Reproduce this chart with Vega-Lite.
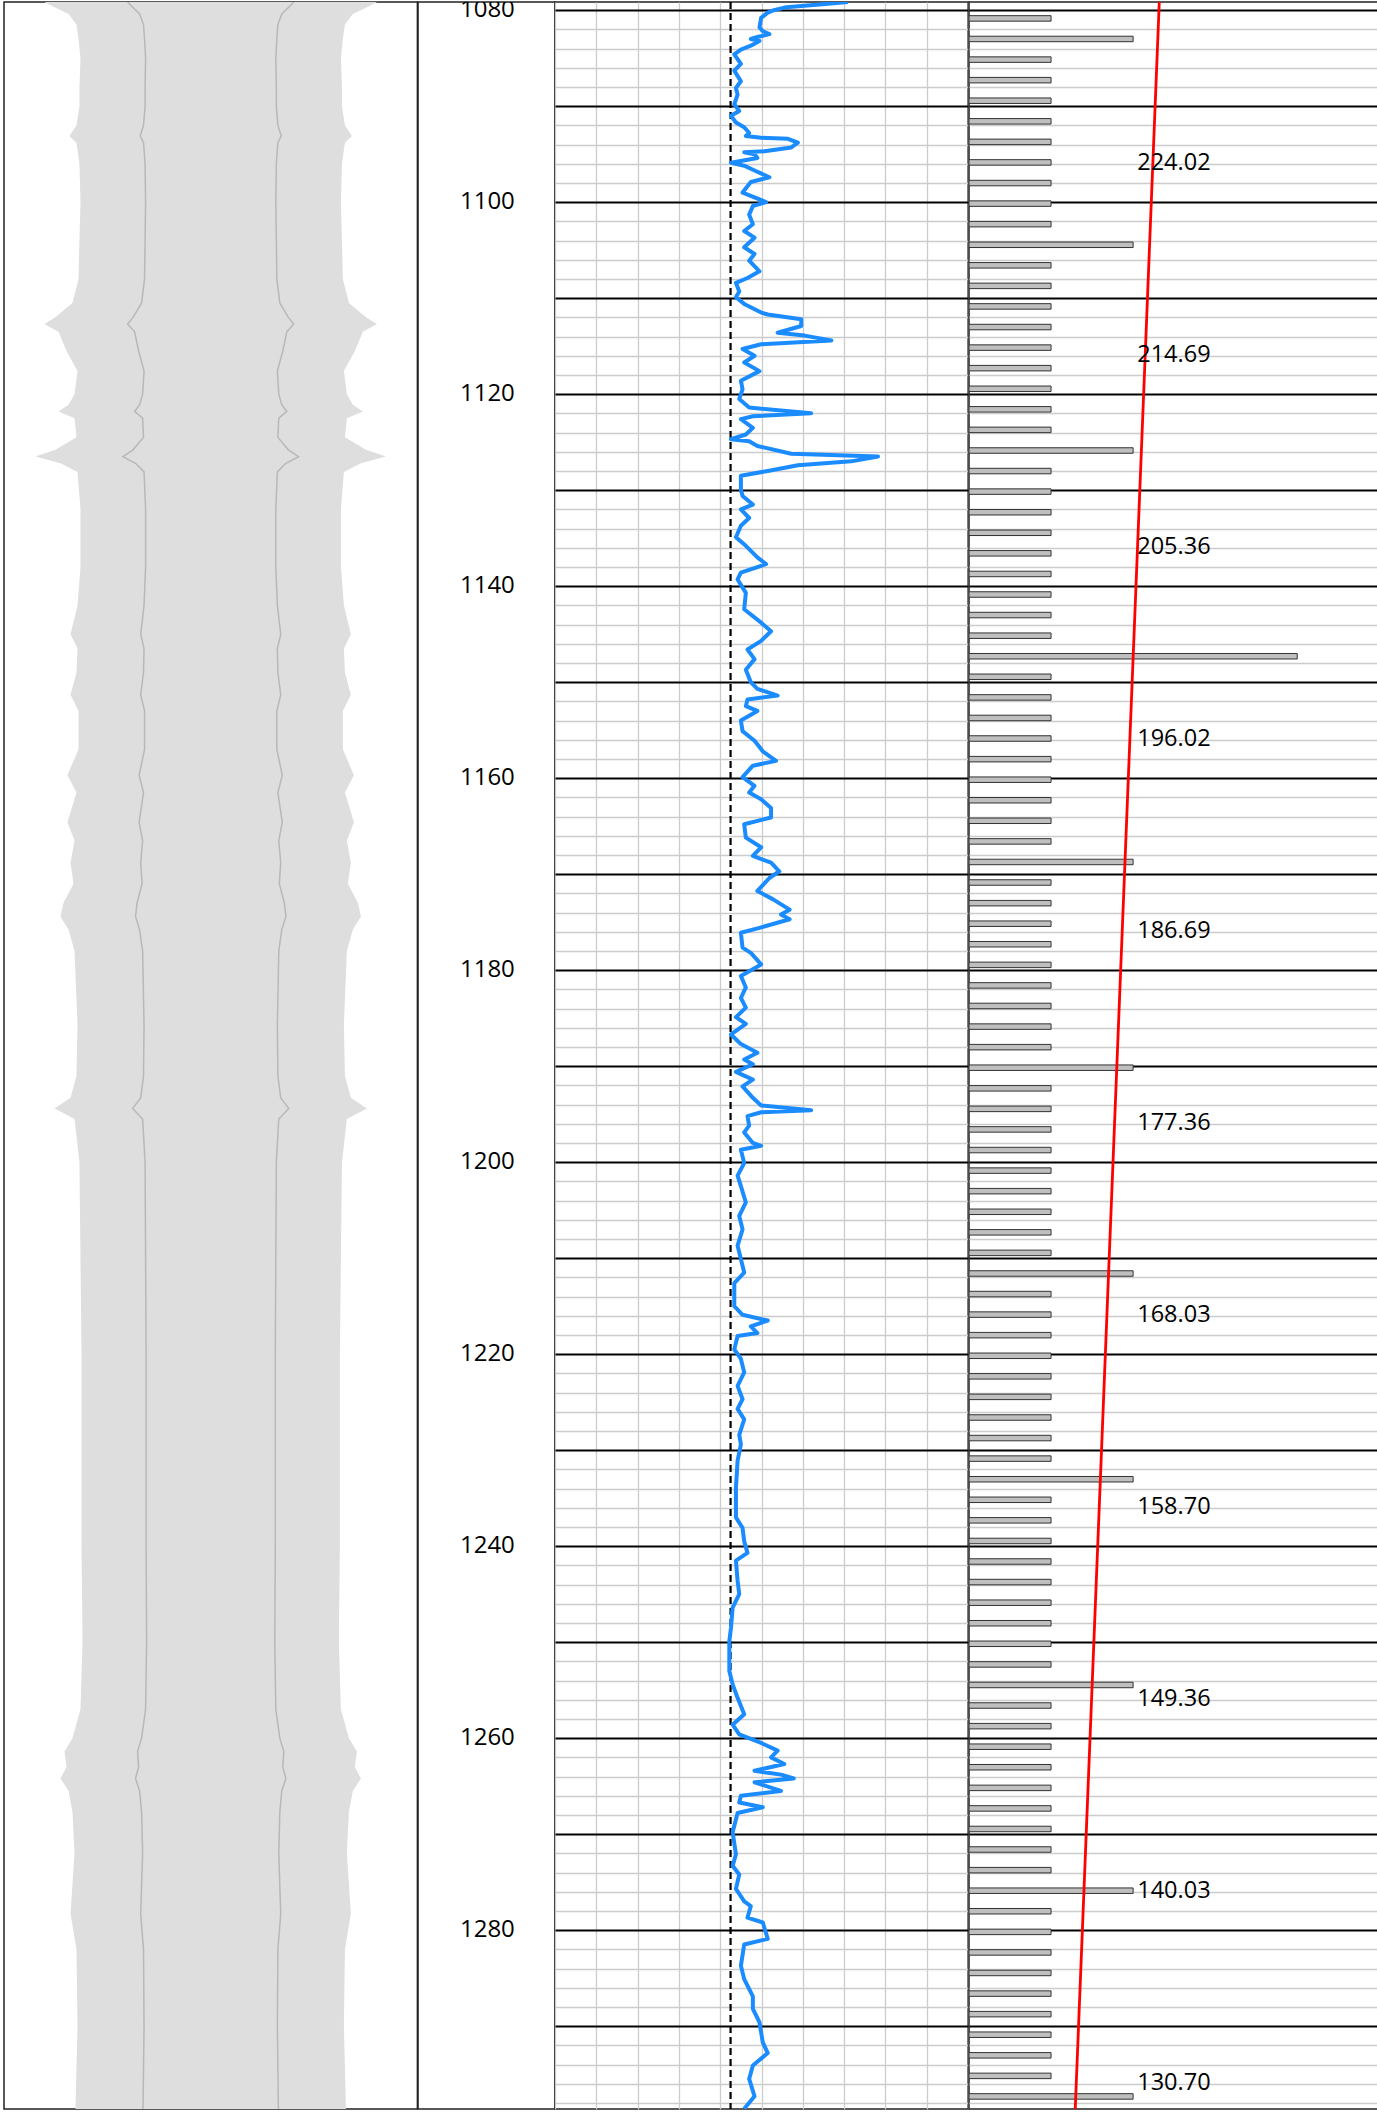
{
  "$schema": "https://vega.github.io/schema/vega-lite/v6.json",
  "padding": {"left": 3, "top": 1, "right": 0, "bottom": 3},
  "spacing": 0,
  "bounds": "flush",
  "config": {"view": {"stroke": "#222222", "strokeWidth": 1.5}},
  "datasets": {
    "caliper": [
      {"d":1079.15,"l":-12.87,"r":12.87,"il":-6.43,"ir":6.43},
      {"d":1079.6,"l":-12.25,"r":12.25,"il":-6.12,"ir":6.12},
      {"d":1080.4,"l":-11.0,"r":11.0,"il":-5.5,"ir":5.5},
      {"d":1081.5,"l":-10.39,"r":10.39,"il":-5.2,"ir":5.2},
      {"d":1083,"l":-10.23,"r":10.23,"il":-5.12,"ir":5.12},
      {"d":1085,"l":-10.08,"r":10.08,"il":-5.04,"ir":5.04},
      {"d":1088,"l":-10.16,"r":10.16,"il":-5.08,"ir":5.08},
      {"d":1090,"l":-10.16,"r":10.16,"il":-5.08,"ir":5.08},
      {"d":1092,"l":-10.39,"r":10.39,"il":-5.2,"ir":5.2},
      {"d":1093.1,"l":-10.93,"r":10.93,"il":-5.46,"ir":5.46},
      {"d":1093.8,"l":-10.39,"r":10.39,"il":-5.2,"ir":5.2},
      {"d":1096,"l":-10.16,"r":10.16,"il":-5.08,"ir":5.08},
      {"d":1100,"l":-10.08,"r":10.08,"il":-5.04,"ir":5.04},
      {"d":1104,"l":-10.16,"r":10.16,"il":-5.08,"ir":5.08},
      {"d":1108,"l":-10.23,"r":10.23,"il":-5.12,"ir":5.12},
      {"d":1110.5,"l":-10.7,"r":10.7,"il":-5.35,"ir":5.35},
      {"d":1112,"l":-12.02,"r":12.02,"il":-6.01,"ir":6.01},
      {"d":1112.7,"l":-12.87,"r":12.87,"il":-6.43,"ir":6.43},
      {"d":1113.5,"l":-11.78,"r":11.78,"il":-5.89,"ir":5.89},
      {"d":1115.5,"l":-11.16,"r":11.16,"il":-5.58,"ir":5.58},
      {"d":1117.6,"l":-10.31,"r":10.31,"il":-5.16,"ir":5.16},
      {"d":1120,"l":-10.54,"r":10.54,"il":-5.27,"ir":5.27},
      {"d":1121.1,"l":-11.0,"r":11.0,"il":-5.5,"ir":5.5},
      {"d":1121.8,"l":-11.78,"r":11.78,"il":-5.89,"ir":5.89},
      {"d":1122.5,"l":-10.54,"r":10.54,"il":-5.27,"ir":5.27},
      {"d":1124.5,"l":-10.39,"r":10.39,"il":-5.2,"ir":5.2},
      {"d":1125.8,"l":-12.02,"r":12.02,"il":-6.01,"ir":6.01},
      {"d":1126.5,"l":-13.57,"r":13.57,"il":-6.8,"ir":6.8},
      {"d":1127.2,"l":-11.63,"r":11.63,"il":-5.82,"ir":5.82},
      {"d":1128.1,"l":-10.31,"r":10.31,"il":-5.16,"ir":5.16},
      {"d":1132,"l":-10.08,"r":10.08,"il":-5.04,"ir":5.04},
      {"d":1138,"l":-10.08,"r":10.08,"il":-5.04,"ir":5.04},
      {"d":1142,"l":-10.31,"r":10.31,"il":-5.16,"ir":5.16},
      {"d":1145,"l":-10.85,"r":10.85,"il":-5.42,"ir":5.42},
      {"d":1146.5,"l":-10.31,"r":10.31,"il":-5.16,"ir":5.16},
      {"d":1149,"l":-10.39,"r":10.39,"il":-5.2,"ir":5.2},
      {"d":1151.3,"l":-10.85,"r":10.85,"il":-5.42,"ir":5.42},
      {"d":1153,"l":-10.23,"r":10.23,"il":-5.12,"ir":5.12},
      {"d":1157,"l":-10.23,"r":10.23,"il":-5.12,"ir":5.12},
      {"d":1159.7,"l":-11.09,"r":11.09,"il":-5.54,"ir":5.54},
      {"d":1161.5,"l":-10.39,"r":10.39,"il":-5.2,"ir":5.2},
      {"d":1164.6,"l":-11.09,"r":11.09,"il":-5.54,"ir":5.54},
      {"d":1166.5,"l":-10.54,"r":10.54,"il":-5.27,"ir":5.27},
      {"d":1168.8,"l":-10.85,"r":10.85,"il":-5.42,"ir":5.42},
      {"d":1171,"l":-10.62,"r":10.62,"il":-5.31,"ir":5.31},
      {"d":1173,"l":-11.4,"r":11.4,"il":-5.7,"ir":5.7},
      {"d":1174.4,"l":-11.63,"r":11.63,"il":-5.82,"ir":5.82},
      {"d":1175.8,"l":-11.0,"r":11.0,"il":-5.5,"ir":5.5},
      {"d":1178,"l":-10.54,"r":10.54,"il":-5.27,"ir":5.27},
      {"d":1185.7,"l":-10.31,"r":10.31,"il":-5.16,"ir":5.16},
      {"d":1191,"l":-10.39,"r":10.39,"il":-5.2,"ir":5.2},
      {"d":1193.3,"l":-10.85,"r":10.85,"il":-5.42,"ir":5.42},
      {"d":1194.4,"l":-12.09,"r":12.09,"il":-6.04,"ir":6.04},
      {"d":1195.5,"l":-10.54,"r":10.54,"il":-5.27,"ir":5.27},
      {"d":1200,"l":-10.16,"r":10.16,"il":-5.08,"ir":5.08},
      {"d":1210,"l":-10.08,"r":10.08,"il":-5.04,"ir":5.04},
      {"d":1220,"l":-10.0,"r":10.0,"il":-5.0,"ir":5.0},
      {"d":1240,"l":-10.0,"r":10.0,"il":-5.0,"ir":5.0},
      {"d":1250,"l":-9.92,"r":9.92,"il":-4.96,"ir":4.96},
      {"d":1257,"l":-10.08,"r":10.08,"il":-5.04,"ir":5.04},
      {"d":1260,"l":-10.7,"r":10.7,"il":-5.35,"ir":5.35},
      {"d":1261.4,"l":-11.32,"r":11.32,"il":-5.66,"ir":5.66},
      {"d":1263,"l":-11.16,"r":11.16,"il":-5.58,"ir":5.58},
      {"d":1264.2,"l":-11.63,"r":11.63,"il":-5.82,"ir":5.82},
      {"d":1265.5,"l":-11.0,"r":11.0,"il":-5.5,"ir":5.5},
      {"d":1267.7,"l":-10.7,"r":10.7,"il":-5.35,"ir":5.35},
      {"d":1272,"l":-10.54,"r":10.54,"il":-5.27,"ir":5.27},
      {"d":1278.3,"l":-10.85,"r":10.85,"il":-5.42,"ir":5.42},
      {"d":1282,"l":-10.39,"r":10.39,"il":-5.2,"ir":5.2},
      {"d":1290,"l":-10.31,"r":10.31,"il":-5.16,"ir":5.16},
      {"d":1298.63,"l":-10.47,"r":10.47,"il":-5.24,"ir":5.24}
    ],
    "depthLabels": [
      {"d":1080},{"d":1100},{"d":1120},{"d":1140},{"d":1160},{"d":1180},{"d":1200},{"d":1220},{"d":1240},{"d":1260},{"d":1280}
    ],
    "curve": [
      {"d":1079.15,"v":70.9},{"d":1079.4,"v":64},{"d":1079.7,"v":56},{"d":1080.0,"v":53},{"d":1080.26,"v":51.5},
      {"d":1080.8,"v":49.9},{"d":1081.8,"v":49.5},{"d":1082.2,"v":50.3},{"d":1082.5,"v":51.9},{"d":1082.8,"v":49},
      {"d":1083.0,"v":47.4},{"d":1083.2,"v":49.5},{"d":1083.7,"v":47.4},{"d":1084.1,"v":45},{"d":1084.6,"v":43.4},
      {"d":1085.6,"v":45},{"d":1086.3,"v":43.4},{"d":1087.4,"v":45},{"d":1088.1,"v":43.8},{"d":1088.8,"v":44.2},
      {"d":1089.8,"v":43.4},{"d":1090.5,"v":44.6},{"d":1091.0,"v":42.6},{"d":1091.7,"v":43.8},{"d":1092.2,"v":45.8},
      {"d":1092.8,"v":47},{"d":1093.1,"v":46.2},{"d":1093.3,"v":49.9},{"d":1093.4,"v":56.4},{"d":1093.8,"v":58.8},
      {"d":1094.3,"v":57.2},{"d":1094.7,"v":50.7},{"d":1094.8,"v":45.8},{"d":1095.0,"v":48.3},{"d":1095.4,"v":49},
      {"d":1095.9,"v":42.6},{"d":1096.2,"v":45.8},{"d":1096.7,"v":48.3},{"d":1097.4,"v":51.9},{"d":1097.9,"v":47.4},
      {"d":1099.0,"v":45.4},{"d":1099.5,"v":48.3},{"d":1100.0,"v":51.1},{"d":1100.4,"v":47.9},{"d":1101.3,"v":47},
      {"d":1102.3,"v":47.9},{"d":1103.0,"v":45.8},{"d":1103.7,"v":48.3},{"d":1104.7,"v":45.8},{"d":1105.4,"v":48.3},
      {"d":1106.1,"v":47},{"d":1107.2,"v":49.5},{"d":1107.9,"v":46.6},{"d":1108.4,"v":43.8},{"d":1109.3,"v":44.6},
      {"d":1109.9,"v":43.8},{"d":1110.6,"v":45.8},{"d":1111.5,"v":49.9},{"d":1111.7,"v":51.5},{"d":1112.2,"v":59.6},
      {"d":1112.9,"v":59.6},{"d":1113.6,"v":53.9},{"d":1113.9,"v":60.4},{"d":1114.4,"v":66.9},{"d":1114.8,"v":49.9},
      {"d":1115.3,"v":45.4},{"d":1116.0,"v":48.3},{"d":1116.7,"v":45.8},{"d":1117.6,"v":49.5},{"d":1118.6,"v":45},
      {"d":1119.5,"v":45.4},{"d":1120.5,"v":44.6},{"d":1121.4,"v":47},{"d":1122.0,"v":62},{"d":1122.3,"v":47.9},
      {"d":1122.6,"v":45},{"d":1123.5,"v":47.9},{"d":1124.2,"v":46.2},{"d":1124.7,"v":42.6},{"d":1124.9,"v":47},
      {"d":1125.4,"v":49},{"d":1126.2,"v":57.2},{"d":1126.5,"v":78.2},{"d":1127.0,"v":71.7},{"d":1127.4,"v":58.8},
      {"d":1128.0,"v":51.5},{"d":1128.5,"v":45},{"d":1129.9,"v":45},{"d":1130.6,"v":45.4},{"d":1131.5,"v":47.9},
      {"d":1132.0,"v":45},{"d":1132.9,"v":47},{"d":1133.7,"v":45},{"d":1134.9,"v":43.8},{"d":1135.8,"v":46.2},
      {"d":1137.0,"v":49},{"d":1137.7,"v":51.1},{"d":1138.6,"v":45},{"d":1139.3,"v":44.2},{"d":1140.7,"v":46.2},
      {"d":1142.4,"v":45.8},{"d":1143.8,"v":49.9},{"d":1144.7,"v":52.3},{"d":1145.7,"v":49.9},{"d":1146.6,"v":46.6},
      {"d":1147.6,"v":48.3},{"d":1148.7,"v":46.2},{"d":1150.0,"v":47.4},{"d":1150.7,"v":49},{"d":1151.4,"v":53.9},
      {"d":1151.8,"v":46.6},{"d":1152.5,"v":46.2},{"d":1153.0,"v":49},{"d":1154.0,"v":45},{"d":1155.1,"v":45.4},
      {"d":1156.1,"v":48.3},{"d":1157.2,"v":50.3},{"d":1158.2,"v":53.5},{"d":1158.7,"v":47.9},{"d":1159.9,"v":45.4},
      {"d":1160.8,"v":48.3},{"d":1161.5,"v":47},{"d":1162.2,"v":49.9},{"d":1163.1,"v":52.3},{"d":1164.1,"v":52.3},
      {"d":1164.8,"v":45.8},{"d":1166.2,"v":46.2},{"d":1167.2,"v":49.9},{"d":1168.1,"v":47.9},{"d":1168.8,"v":52.3},
      {"d":1169.7,"v":54.3},{"d":1170.4,"v":51.9},{"d":1171.75,"v":49},{"d":1172.6,"v":52.7},{"d":1173.7,"v":56.8},
      {"d":1174.2,"v":54.7},{"d":1174.7,"v":56.8},{"d":1175.6,"v":49.5},{"d":1176.1,"v":45},{"d":1177.65,"v":45.4},
      {"d":1178.2,"v":47.4},{"d":1179.4,"v":49.9},{"d":1180.6,"v":45},{"d":1181.8,"v":46.2},{"d":1182.9,"v":45},
      {"d":1183.9,"v":46.2},{"d":1184.9,"v":43.8},{"d":1185.6,"v":46.2},{"d":1186.7,"v":42.6},{"d":1187.7,"v":45},
      {"d":1188.6,"v":49},{"d":1189.3,"v":45.8},{"d":1189.8,"v":47.9},{"d":1190.6,"v":43.8},{"d":1191.4,"v":47.9},
      {"d":1192.1,"v":45.4},{"d":1193.3,"v":47.9},{"d":1194.1,"v":49.9},{"d":1194.6,"v":62},{"d":1194.8,"v":49.9},
      {"d":1195.2,"v":46.6},{"d":1196.2,"v":47},{"d":1196.9,"v":45.8},{"d":1198.0,"v":47.9},{"d":1198.3,"v":49.9},
      {"d":1198.7,"v":45},{"d":1200.1,"v":45.8},{"d":1201.4,"v":44.2},{"d":1202.5,"v":45},{"d":1204.2,"v":46.2},
      {"d":1205.6,"v":44.6},{"d":1207.0,"v":45.4},{"d":1208.7,"v":44.2},{"d":1210.1,"v":45},{"d":1211.5,"v":45.8},
      {"d":1212.6,"v":43.4},{"d":1215.0,"v":43.4},{"d":1215.9,"v":45.4},{"d":1216.5,"v":51.5},{"d":1217.1,"v":47.4},
      {"d":1217.8,"v":49},{"d":1218.1,"v":44.2},{"d":1219.5,"v":43.4},{"d":1220.5,"v":45},{"d":1221.9,"v":45.8},
      {"d":1223.3,"v":44.2},{"d":1224.7,"v":45.4},{"d":1225.7,"v":44.2},{"d":1226.8,"v":45.8},{"d":1228.4,"v":44.6},
      {"d":1229.4,"v":45},{"d":1231.1,"v":44.2},{"d":1233.9,"v":43.8},{"d":1237.0,"v":43.8},{"d":1238.1,"v":45.4},
      {"d":1239.5,"v":45.8},{"d":1240.7,"v":46.6},{"d":1241.5,"v":43.8},{"d":1243.6,"v":44.2},{"d":1245.0,"v":44.6},
      {"d":1246.4,"v":43},{"d":1248.5,"v":42.6},{"d":1249.9,"v":42.2},{"d":1253.0,"v":42.2},{"d":1254.4,"v":43},
      {"d":1255.8,"v":44.2},{"d":1257.5,"v":45.8},{"d":1258.6,"v":43},{"d":1259.6,"v":44.6},{"d":1260.5,"v":49.9},
      {"d":1261.3,"v":53.9},{"d":1262.0,"v":52.3},{"d":1262.7,"v":55.5},{"d":1263.4,"v":48.3},{"d":1263.8,"v":54.7},
      {"d":1264.2,"v":57.8},{"d":1264.6,"v":48.3},{"d":1265.5,"v":54.7},{"d":1266.0,"v":45},{"d":1266.7,"v":44.6},
      {"d":1267.2,"v":50.3},{"d":1267.8,"v":44.2},{"d":1269.8,"v":43},{"d":1272.1,"v":43.8},{"d":1273.3,"v":43},
      {"d":1274.2,"v":44.6},{"d":1275.7,"v":43.8},{"d":1277.0,"v":45.8},{"d":1277.5,"v":47.4},{"d":1278.7,"v":46.6},
      {"d":1279.2,"v":50.3},{"d":1280.9,"v":51.5},{"d":1281.5,"v":45.8},{"d":1283.7,"v":45},{"d":1285.1,"v":45.8},
      {"d":1286.9,"v":47.9},{"d":1288.2,"v":47.9},{"d":1289.6,"v":49.5},{"d":1291.7,"v":50.3},{"d":1292.8,"v":51.5},
      {"d":1294.1,"v":47.9},{"d":1295.5,"v":47},{"d":1297.3,"v":48.3},{"d":1298.6,"v":45.8}
    ],
    "cutoff": [{"d":1079.15,"v":42.5},{"d":1298.63,"v":42.5}],
    "bars": [
      {"d":1080.86,"v":100},{"d":1083.00,"v":200},{"d":1085.15,"v":100},{"d":1087.29,"v":100},{"d":1089.43,"v":100},
      {"d":1091.58,"v":100},{"d":1093.72,"v":100},{"d":1095.86,"v":100},{"d":1098.01,"v":100},{"d":1100.15,"v":100},
      {"d":1102.29,"v":100},{"d":1104.44,"v":200},{"d":1106.58,"v":100},{"d":1108.72,"v":100},{"d":1110.86,"v":100},
      {"d":1113.01,"v":100},{"d":1115.15,"v":100},{"d":1117.29,"v":100},{"d":1119.44,"v":100},{"d":1121.58,"v":100},
      {"d":1123.72,"v":100},{"d":1125.87,"v":200},{"d":1128.01,"v":100},{"d":1130.15,"v":100},{"d":1132.30,"v":100},
      {"d":1134.44,"v":100},{"d":1136.58,"v":100},{"d":1138.73,"v":100},{"d":1140.87,"v":100},{"d":1143.01,"v":100},
      {"d":1145.16,"v":100},{"d":1147.30,"v":400},{"d":1149.44,"v":100},{"d":1151.59,"v":100},{"d":1153.73,"v":100},
      {"d":1155.87,"v":100},{"d":1158.02,"v":100},{"d":1160.16,"v":100},{"d":1162.30,"v":100},{"d":1164.44,"v":100},
      {"d":1166.59,"v":100},{"d":1168.73,"v":200},{"d":1170.87,"v":100},{"d":1173.02,"v":100},{"d":1175.16,"v":100},
      {"d":1177.30,"v":100},{"d":1179.45,"v":100},{"d":1181.59,"v":100},{"d":1183.73,"v":100},{"d":1185.88,"v":100},
      {"d":1188.02,"v":100},{"d":1190.16,"v":200},{"d":1192.31,"v":100},{"d":1194.45,"v":100},{"d":1196.59,"v":100},
      {"d":1198.74,"v":100},{"d":1200.88,"v":100},{"d":1203.02,"v":100},{"d":1205.17,"v":100},{"d":1207.31,"v":100},
      {"d":1209.45,"v":100},{"d":1211.60,"v":200},{"d":1213.74,"v":100},{"d":1215.88,"v":100},{"d":1218.02,"v":100},
      {"d":1220.17,"v":100},{"d":1222.31,"v":100},{"d":1224.45,"v":100},{"d":1226.60,"v":100},{"d":1228.74,"v":100},
      {"d":1230.88,"v":100},{"d":1233.03,"v":200},{"d":1235.17,"v":100},{"d":1237.31,"v":100},{"d":1239.46,"v":100},
      {"d":1241.60,"v":100},{"d":1243.74,"v":100},{"d":1245.89,"v":100},{"d":1248.03,"v":100},{"d":1250.17,"v":100},
      {"d":1252.32,"v":100},{"d":1254.46,"v":200},{"d":1256.60,"v":100},{"d":1258.75,"v":100},{"d":1260.89,"v":100},
      {"d":1263.03,"v":100},{"d":1265.18,"v":100},{"d":1267.32,"v":100},{"d":1269.46,"v":100},{"d":1271.60,"v":100},
      {"d":1273.75,"v":100},{"d":1275.89,"v":200},{"d":1278.03,"v":100},{"d":1280.18,"v":100},{"d":1282.32,"v":100},
      {"d":1284.46,"v":100},{"d":1286.61,"v":100},{"d":1288.75,"v":100},{"d":1290.89,"v":100},{"d":1293.04,"v":100},
      {"d":1295.18,"v":100},{"d":1297.32,"v":200}
    ],
    "trend": [
      {"d":1079.15,"v":231.88},{"d":1096,"v":224.02},{"d":1116,"v":214.69},{"d":1136,"v":205.36},{"d":1156,"v":196.02},
      {"d":1176,"v":186.69},{"d":1196,"v":177.36},{"d":1216,"v":168.03},{"d":1236,"v":158.70},{"d":1256,"v":149.36},
      {"d":1276,"v":140.03},{"d":1296,"v":130.70},{"d":1298.63,"v":129.46}
    ],
    "trendLabels": [
      {"d":1096,"t":"224.02"},{"d":1116,"t":"214.69"},{"d":1136,"t":"205.36"},{"d":1156,"t":"196.02"},
      {"d":1176,"t":"186.69"},{"d":1196,"t":"177.36"},{"d":1216,"t":"168.03"},{"d":1236,"t":"158.70"},
      {"d":1256,"t":"149.36"},{"d":1276,"t":"140.03"},{"d":1296,"t":"130.70"}
    ]
  },
  "hconcat": [
    {
      "width": 413.4,
      "height": 2107,
      "data": {"name": "caliper"},
      "encoding": {
        "y": {"field": "d", "type": "quantitative", "scale": {"domain": [1079.15, 1298.63], "reverse": true, "nice": false, "zero": false, "padding": 0}, "axis": null}
      },
      "layer": [
        {
          "mark": {"type": "area", "orient": "horizontal", "color": "#dedede", "opacity": 1, "clip": true},
          "encoding": {
            "x": {"field": "l", "type": "quantitative", "scale": {"domain": [-16, 16], "nice": false, "zero": false}, "axis": null},
            "x2": {"field": "r"}
          }
        },
        {
          "mark": {"type": "line", "color": "#b8b8b8", "strokeWidth": 1.5, "clip": true},
          "encoding": {
            "x": {"field": "il", "type": "quantitative", "scale": {"domain": [-16, 16], "nice": false, "zero": false}, "axis": null},
            "order": {"field": "d"}
          }
        },
        {
          "mark": {"type": "line", "color": "#b8b8b8", "strokeWidth": 1.5, "clip": true},
          "encoding": {
            "x": {"field": "ir", "type": "quantitative", "scale": {"domain": [-16, 16], "nice": false, "zero": false}, "axis": null},
            "order": {"field": "d"}
          }
        }
      ]
    },
    {
      "width": 136.9,
      "height": 2107,
      "data": {"name": "depthLabels"},
      "mark": {"type": "text", "align": "right", "baseline": "middle", "font": "Open Sans", "fontSize": 24, "color": "#000000", "clip": true},
      "encoding": {
        "y": {"field": "d", "type": "quantitative", "scale": {"domain": [1079.15, 1298.63], "reverse": true, "nice": false, "zero": false, "padding": 0}, "axis": null},
        "x": {"datum": 0.7073, "type": "quantitative", "scale": {"domain": [0, 1], "nice": false}, "axis": null},
        "text": {"field": "d", "type": "quantitative", "format": "d"}
      }
    },
    {
      "width": 413.1,
      "height": 2107,
      "encoding": {
        "y": {"field": "d", "type": "quantitative", "scale": {"domain": [1079.15, 1298.63], "reverse": true, "nice": false, "zero": false, "padding": 0},
          "axis": {"values": [1080,1082,1084,1086,1088,1090,1092,1094,1096,1098,1100,1102,1104,1106,1108,1110,1112,1114,1116,1118,1120,1122,1124,1126,1128,1130,1132,1134,1136,1138,1140,1142,1144,1146,1148,1150,1152,1154,1156,1158,1160,1162,1164,1166,1168,1170,1172,1174,1176,1178,1180,1182,1184,1186,1188,1190,1192,1194,1196,1198,1200,1202,1204,1206,1208,1210,1212,1214,1216,1218,1220,1222,1224,1226,1228,1230,1232,1234,1236,1238,1240,1242,1244,1246,1248,1250,1252,1254,1256,1258,1260,1262,1264,1266,1268,1270,1272,1274,1276,1278,1280,1282,1284,1286,1288,1290,1292,1294,1296,1298],
            "grid": true, "labels": false, "ticks": false, "domain": false, "title": null,
            "gridColor": {"condition": {"test": "datum.value % 10 === 0", "value": "#000000"}, "value": "#cccccc"},
            "gridWidth": {"condition": {"test": "datum.value % 10 === 0", "value": 2}, "value": 1.3},
            "gridOpacity": 1}},
        "x": {"field": "v", "type": "quantitative", "scale": {"domain": [0, 100], "nice": false, "zero": false, "padding": 0},
          "axis": {"values": [0,10,20,30,40,50,60,70,80,90,100], "grid": true, "gridColor": "#cccccc", "gridWidth": 1.3, "gridOpacity": 1, "labels": false, "ticks": false, "domain": false, "title": null}}
      },
      "layer": [
        {
          "data": {"name": "cutoff"},
          "mark": {"type": "line", "color": "#000000", "strokeWidth": 2.2, "strokeDash": [7, 4], "clip": true}
        },
        {
          "data": {"name": "curve"},
          "mark": {"type": "line", "color": "#1a8cff", "strokeWidth": 4, "strokeJoin": "round", "clip": true},
          "encoding": {"order": {"field": "d"}}
        }
      ]
    },
    {
      "width": 410.3,
      "height": 2107,
      "encoding": {
        "y": {"field": "d", "type": "quantitative", "scale": {"domain": [1079.15, 1298.63], "reverse": true, "nice": false, "zero": false, "padding": 0},
          "axis": {"values": [1080,1082,1084,1086,1088,1090,1092,1094,1096,1098,1100,1102,1104,1106,1108,1110,1112,1114,1116,1118,1120,1122,1124,1126,1128,1130,1132,1134,1136,1138,1140,1142,1144,1146,1148,1150,1152,1154,1156,1158,1160,1162,1164,1166,1168,1170,1172,1174,1176,1178,1180,1182,1184,1186,1188,1190,1192,1194,1196,1198,1200,1202,1204,1206,1208,1210,1212,1214,1216,1218,1220,1222,1224,1226,1228,1230,1232,1234,1236,1238,1240,1242,1244,1246,1248,1250,1252,1254,1256,1258,1260,1262,1264,1266,1268,1270,1272,1274,1276,1278,1280,1282,1284,1286,1288,1290,1292,1294,1296,1298],
            "grid": true, "labels": false, "ticks": false, "domain": false, "title": null,
            "gridColor": {"condition": {"test": "datum.value % 10 === 0", "value": "#000000"}, "value": "#cccccc"},
            "gridWidth": {"condition": {"test": "datum.value % 10 === 0", "value": 2}, "value": 1.3},
            "gridOpacity": 1}}
      },
      "layer": [
        {
          "data": {"name": "bars"},
          "mark": {"type": "bar", "orient": "horizontal", "height": 5.5, "fill": "#bfbfbf", "stroke": "#333333", "strokeWidth": 1, "clip": true},
          "encoding": {
            "x": {"field": "v", "type": "quantitative", "scale": {"domain": [0, 500], "nice": false, "padding": 0}, "axis": null, "stack": null}
          }
        },
        {
          "data": {"name": "trend"},
          "mark": {"type": "line", "color": "#ff0000", "strokeWidth": 2.8, "clip": true},
          "encoding": {
            "x": {"field": "v", "type": "quantitative", "scale": {"domain": [0, 500], "nice": false, "padding": 0}, "axis": null},
            "order": {"field": "d"}
          }
        },
        {
          "data": {"name": "trendLabels"},
          "mark": {"type": "text", "align": "left", "baseline": "middle", "dy": -1, "font": "Open Sans", "fontSize": 23.5, "color": "#000000", "clip": true},
          "encoding": {
            "x": {"datum": 205, "type": "quantitative", "scale": {"domain": [0, 500], "nice": false, "padding": 0}, "axis": null},
            "text": {"field": "t", "type": "nominal"}
          }
        }
      ]
    }
  ]
}
